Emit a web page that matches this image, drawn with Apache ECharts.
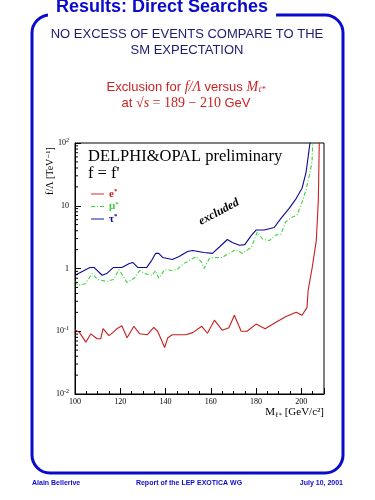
<!DOCTYPE html>
<html>
<head>
<meta charset="utf-8">
<script src="https://cdn.jsdelivr.net/npm/echarts@6/dist/echarts.min.js"></script>
<style>
  html, body { margin: 0; padding: 0; background: #fff; }
  #chart { width: 375px; height: 500px; }
</style>
</head>
<body>
<div id="chart"></div>
<script>
// limits: mass in GeV/c^2, f/Lambda in TeV^-1
const eMass = [100, 102, 104.8, 107, 109.7, 111.4, 112.4, 115, 116.7, 118.5, 120.7, 123, 126, 128.6, 132, 134.8, 136.5, 139.6, 141, 143, 149, 152, 156, 158.5, 161.6, 165, 168, 170.4, 173.4, 176, 180, 184, 189, 193, 197.7, 200.3, 202.5, 203, 204.8, 206.6, 207.5, 207.9, 208];
const eLimit = [0.106, 0.095, 0.067, 0.091, 0.076, 0.076, 0.11, 0.085, 0.095, 0.11, 0.122, 0.079, 0.12, 0.091, 0.088, 0.115, 0.1, 0.055, 0.079, 0.088, 0.088, 0.095, 0.12, 0.093, 0.15, 0.104, 0.114, 0.18, 0.1, 0.1, 0.13, 0.11, 0.14, 0.17, 0.2, 0.18, 0.24, 0.45, 1.04, 2.8, 12.3, 100, 200];

const muMass = [100, 101.5, 104.5, 107.5, 110, 114, 117, 119.4, 121, 123, 126.4, 128.6, 130.8, 134, 135.6, 137, 139.6, 143, 145, 148, 150.6, 152.8, 154, 156, 157, 159.4, 162.5, 165, 168, 171, 174, 178, 180.5, 183, 186, 188.4, 191, 193, 196, 198, 200.3, 202, 203.4, 204.7, 205, 205.3];
const muLimit = [0.62, 0.54, 0.57, 0.83, 0.67, 0.62, 0.67, 0.96, 0.78, 0.6, 0.71, 0.93, 0.83, 0.78, 0.93, 0.7, 0.96, 0.93, 0.96, 1.2, 1.35, 1.5, 1.5, 1.25, 1.0, 1.45, 1.5, 1.5, 1.74, 2.0, 1.74, 2.2, 3.8, 2.9, 2.8, 3.4, 3.5, 5.5, 6.6, 7.0, 11.4, 17.7, 29, 50, 100, 150];

const tauMass = [100, 103, 106.6, 108.4, 112, 114, 117, 120.7, 124, 125.5, 127.7, 131.7, 133.9, 135.6, 137, 138.7, 143, 146, 149.7, 152, 157, 160.7, 163.8, 167.3, 169.5, 172.6, 175, 178, 180, 183.6, 188, 191, 194.6, 197.7, 200.3, 202, 203, 203.8, 204.2];
const tauLimit = [0.78, 0.89, 1.04, 1.04, 0.78, 0.83, 1.04, 1.04, 1.2, 1.25, 1.04, 1.04, 1.35, 1.74, 1.74, 1.5, 1.39, 1.55, 1.87, 1.94, 1.8, 1.74, 2.2, 2.9, 2.6, 2.35, 2.4, 3.4, 4.1, 4.1, 4.5, 6.3, 9.1, 13, 19, 33, 60, 100, 150];

const seriesNames = ['e*', 'μ*', 'τ*'];
const seriesColors = ['#c81e1e', '#3ad33a', '#0a0a96'];
const yMinorTicks = [0.02, 0.03, 0.04, 0.05, 0.06, 0.07, 0.08, 0.09,
  0.2, 0.3, 0.4, 0.5, 0.6, 0.7, 0.8, 0.9,
  2, 3, 4, 5, 6, 7, 8, 9,
  20, 30, 40, 50, 60, 70, 80, 90];

const zip = (xs, ys) => xs.map((x, i) => [x, ys[i]]);

const serif = '"Liberation Serif", "DejaVu Serif", serif';
const sans = '"Liberation Sans", "DejaVu Sans", sans-serif';

// thin bar icons for the legend (solid, dash-dot)
const solidIcon = 'path://M0,0H14V1H0Z';
const dashIcon = 'path://M0,0H4V1H0Z M6,0H7V1H6Z M9,0H13V1H9Z';
const legendIcons = [solidIcon, dashIcon, solidIcon];

const chart = echarts.init(document.getElementById('chart'));

const lineSeries = [
  { data: zip(eMass, eLimit), dash: 'solid' },
  { data: zip(muMass, muLimit), dash: [4, 2, 1, 2] },
  { data: zip(tauMass, tauLimit), dash: 'solid' },
].map((s, i) => ({
  name: seriesNames[i],
  type: 'line',
  data: s.data,
  symbol: 'none',
  smooth: false,
  clip: true,
  lineStyle: { color: seriesColors[i], width: 1.1, type: s.dash },
  itemStyle: { color: seriesColors[i] },
  z: 3,
}));

chart.setOption({
  animation: false,
  grid: { left: 75, top: 143, width: 249, height: 251, show: true, borderColor: '#000', borderWidth: 1 },
  legend: {
    orient: 'vertical',
    left: 86,
    top: 183,
    itemWidth: 13,
    itemHeight: 1.2,
    itemGap: 0.5,
    data: seriesNames.map((n, i) => ({ name: n, icon: legendIcons[i], textStyle: { color: seriesColors[i] } })),
    formatter: (n) => '{b|' + n.slice(0, -1) + '}{s|*}',
    textStyle: {
      fontFamily: serif,
      fontSize: 10,
      fontWeight: 'bold',
      lineHeight: 12,
      rich: {
        b: { fontSize: 11, fontWeight: 'bold', fontFamily: serif, lineHeight: 12 },
        s: { fontSize: 7, fontWeight: 'bold', verticalAlign: 'top', lineHeight: 12, padding: [0, 0, 5, 0] },
      },
    },
  },
  xAxis: {
    type: 'value',
    min: 100,
    max: 210,
    interval: 20,
    splitLine: { show: false },
    axisLine: { lineStyle: { color: '#000', width: 1 } },
    axisTick: { inside: true, length: 6, lineStyle: { color: '#000' } },
    minorTick: { show: true, splitNumber: 4, length: 3, lineStyle: { color: '#000' } },
    axisLabel: { color: '#000', fontFamily: serif, fontSize: 8, margin: 4, showMaxLabel: false },
    name: 'M{sub|ℓ*} [GeV/c²]',
    nameLocation: 'end',
    nameGap: 0,
    nameTextStyle: {
      color: '#000', fontFamily: serif, fontSize: 11, align: 'right', verticalAlign: 'top',
      padding: [12, 0, 0, 0],
      rich: { sub: { fontSize: 7, fontFamily: serif, color: '#000', verticalAlign: 'bottom', padding: [6, 0, 0, 0] } },
    },
  },
  yAxis: {
    type: 'log',
    logBase: 10,
    min: 0.01,
    max: 100,
    splitLine: { show: false },
    axisLine: { lineStyle: { color: '#000', width: 1 } },
    axisTick: { inside: true, length: 6, lineStyle: { color: '#000' } },
    axisLabel: {
      color: '#000', fontFamily: serif, fontSize: 8, margin: 6,
      formatter: (v) => {
        const e = Math.round(Math.log10(v));
        if (e === 0) return '1';
        if (e === 1) return '10';
        return '10{s|' + e + '}';
      },
      rich: { s: { fontSize: 6, fontFamily: serif, color: '#000', verticalAlign: 'top', padding: [0, 0, 6, 0] } },
    },
  },
  series: lineSeries.concat([{
    type: 'custom',
    silent: true,
    clip: false,
    data: yMinorTicks.map((v) => [100, v]),
    renderItem: (params, api) => {
      const p = api.coord([api.value(0), api.value(1)]);
      return {
        type: 'line',
        shape: { x1: p[0], y1: p[1], x2: p[0] + 3, y2: p[1] },
        style: { stroke: '#000', lineWidth: 1 },
      };
    },
    z: 4,
  }]),
  graphic: [
    {
      type: 'rect', z: 0,
      shape: { x: 32, y: 15, width: 311, height: 458, r: 18 },
      style: { fill: 'none', stroke: '#0a0acc', lineWidth: 3 },
    },
    {
      type: 'text', x: 162, y: 7, z: 10,
      style: {
        text: 'Results: Direct Searches', font: 'bold 18px ' + sans, fill: '#0a0acc',
        align: 'center', verticalAlign: 'middle', backgroundColor: '#fff', padding: [2, 8],
      },
    },
    {
      type: 'text', x: 187, y: 34, z: 10,
      style: { text: 'NO EXCESS OF EVENTS COMPARE TO THE', font: '13px ' + sans, fill: '#1c1c70', align: 'center', verticalAlign: 'middle' },
    },
    {
      type: 'text', x: 187, y: 50, z: 10,
      style: { text: 'SM EXPECTATION', font: '13px ' + sans, fill: '#1c1c70', align: 'center', verticalAlign: 'middle' },
    },
    {
      type: 'text', x: 186, y: 87, z: 10,
      style: {
        text: 'Exclusion for {i|f/Λ} versus {i|M}{sub|ℓ*}', font: '13px ' + sans, fill: '#cc2222',
        align: 'center', verticalAlign: 'middle',
        rich: {
          i: { font: 'italic 14px ' + serif, fill: '#cc2222' },
          sub: { font: 'italic 8px ' + serif, fill: '#cc2222', verticalAlign: 'bottom', padding: [5, 0, 0, 0] },
        },
      },
    },
    {
      type: 'text', x: 186, y: 103, z: 10,
      style: {
        text: 'at {m|√}{i|s}{m| = 189 − 210} GeV', font: '13px ' + sans, fill: '#cc2222',
        align: 'center', verticalAlign: 'middle',
        rich: {
          i: { font: 'italic 14px ' + serif, fill: '#cc2222' },
          m: { font: '14px ' + serif, fill: '#cc2222' },
        },
      },
    },
    {
      type: 'text', x: 88, y: 157, z: 10,
      style: { text: 'DELPHI&OPAL preliminary', font: '16.5px ' + serif, fill: '#000', verticalAlign: 'middle' },
    },
    {
      type: 'text', x: 88, y: 174, z: 10,
      style: { text: "f = f'", font: '16.5px ' + serif, fill: '#000', verticalAlign: 'middle' },
    },
    {
      type: 'text', x: 219, y: 212, z: 10, rotation: 0.49,
      style: { text: 'excluded', font: 'italic bold 12px ' + serif, fill: '#000', align: 'center', verticalAlign: 'middle' },
    },
    {
      type: 'text', x: 50, y: 171, z: 10, rotation: Math.PI / 2,
      style: { text: 'f/Λ [TeV⁻¹]', font: '10px ' + serif, fill: '#000', align: 'center', verticalAlign: 'middle' },
    },
    {
      type: 'text', x: 32, y: 483, z: 10,
      style: { text: 'Alain Bellerive', font: 'bold 7px ' + sans, fill: '#0a0acc', verticalAlign: 'middle' },
    },
    {
      type: 'text', x: 189, y: 483, z: 10,
      style: { text: 'Report of the LEP EXOTICA WG', font: 'bold 7px ' + sans, fill: '#0a0acc', align: 'center', verticalAlign: 'middle' },
    },
    {
      type: 'text', x: 343, y: 483, z: 10,
      style: { text: 'July 10, 2001', font: 'bold 7px ' + sans, fill: '#0a0acc', align: 'right', verticalAlign: 'middle' },
    },
  ],
});

window.addEventListener('resize', () => chart.resize());
</script>
</body>
</html>
